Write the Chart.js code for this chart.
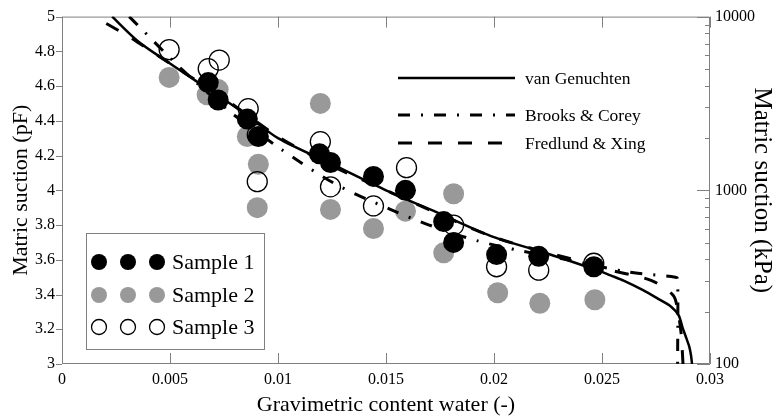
<!DOCTYPE html>
<html lang="en">
<head>
<meta charset="UTF-8">
<title>Matric suction vs gravimetric water content</title>
<script src="https://cdn.jsdelivr.net/npm/chart.js"></script>
<style>
  html, body { margin: 0; padding: 0; background: #fff; }
  #wrap { width: 777px; height: 416px; }
</style>
</head>
<body>
<div id="wrap"><canvas id="suctionChart"></canvas></div>
<script>
// measured points (gravimetric water content, pF)
const sample1X = [0.00677, 0.00723, 0.00858, 0.00909, 0.01192, 0.01243, 0.01442, 0.0159, 0.01767, 0.01813, 0.02012, 0.02207, 0.02462];
const sample1Y = [4.62, 4.52, 4.41, 4.31, 4.21, 4.16, 4.08, 4.00, 3.82, 3.70, 3.63, 3.62, 3.56];
const sample2X = [0.00496, 0.00672, 0.00723, 0.00858, 0.00909, 0.00904, 0.01196, 0.01243, 0.01442, 0.0159, 0.01813, 0.01767, 0.02017, 0.02212, 0.02467];
const sample2Y = [4.65, 4.55, 4.58, 4.31, 4.15, 3.90, 4.50, 3.89, 3.78, 3.88, 3.98, 3.64, 3.41, 3.35, 3.37];
const sample3X = [0.00496, 0.00677, 0.00728, 0.00862, 0.00904, 0.00904, 0.01196, 0.01243, 0.01442, 0.01595, 0.01813, 0.02012, 0.02207, 0.02462];
const sample3Y = [4.81, 4.70, 4.75, 4.47, 4.32, 4.05, 4.28, 4.02, 3.91, 4.13, 3.80, 3.56, 3.54, 3.58];

// fitted curves
const vgX = [0.00232, 0.0035, 0.005, 0.0062, 0.0073, 0.0087, 0.01, 0.0125, 0.015, 0.0175, 0.02, 0.0225, 0.025, 0.0254, 0.026, 0.0269, 0.0276, 0.0282, 0.02855, 0.02873, 0.0289, 0.02904, 0.02912, 0.02917];
const vgY = [5.0, 4.86, 4.73, 4.63, 4.54, 4.42, 4.30, 4.15, 4.00, 3.865, 3.73, 3.635, 3.53, 3.51, 3.48, 3.425, 3.375, 3.33, 3.28, 3.21, 3.15, 3.10, 3.05, 3.0];
const bcX = [0.00311, 0.00348, 0.0056, 0.0078, 0.009, 0.0101, 0.0126, 0.0152, 0.017, 0.0192, 0.0213, 0.0234, 0.0262, 0.0284, 0.0285, 0.0285];
const bcY = [5.0, 4.954, 4.69, 4.45, 4.34, 4.24, 4.04, 3.89, 3.80, 3.71, 3.65, 3.60, 3.53, 3.50, 3.49, 3.0];
const fxX = [0.00205, 0.0031, 0.0045, 0.006, 0.0075, 0.01, 0.0125, 0.015, 0.0175, 0.02, 0.0225, 0.025, 0.0254, 0.0273, 0.0283, 0.0285, 0.02866, 0.02875];
const fxY = [4.96, 4.885, 4.77, 4.65, 4.53, 4.31, 4.14, 4.00, 3.86, 3.73, 3.64, 3.56, 3.54, 3.48, 3.395, 3.31, 3.18, 3.0];

// axes
const xTicks = [0, 0.005, 0.01, 0.015, 0.02, 0.025, 0.03];
const xTickLabels = ['0', '0.005', '0.01', '0.015', '0.02', '0.025', '0.03'];
const pfTicks = [3, 3.2, 3.4, 3.6, 3.8, 4, 4.2, 4.4, 4.6, 4.8, 5];
const pfTickLabels = ['3', '3.2', '3.4', '3.6', '3.8', '4', '4.2', '4.4', '4.6', '4.8', '5'];
const kpaTicks = [100, 200, 300, 400, 500, 600, 700, 800, 900, 1000, 2000, 3000, 4000, 5000, 6000, 7000, 8000, 9000, 10000];
const kpaMajor = [100, 1000, 10000];
const kpaTickLabels = ['100', '1000', '10000'];

const axisGray = '#808080';
const serif = 'Liberation Serif';
Chart.defaults.font.family = serif;
Chart.defaults.color = '#000';

const pts = (xs, ys) => xs.map((x, i) => ({ x: x, y: ys[i] }));

// frame and inward/outward tick marks
const frameTicks = {
  id: 'frameTicks',
  beforeDatasetsDraw(chart) {
    const { ctx, chartArea: a, scales } = chart;
    ctx.save();
    ctx.strokeStyle = axisGray;
    ctx.lineWidth = 1;
    ctx.beginPath();
    ctx.rect(a.left + 0.5, a.top + 0.5, a.right - a.left - 1, a.bottom - a.top - 1);
    xTicks.forEach(v => {
      const px = Math.round(scales.x.getPixelForValue(v)) + 0.5;
      ctx.moveTo(px, a.bottom); ctx.lineTo(px, a.bottom - 11);
      ctx.moveTo(px, a.top); ctx.lineTo(px, a.top + 11);
    });
    pfTicks.forEach(v => {
      const py = Math.round(scales.y.getPixelForValue(v)) + 0.5;
      ctx.moveTo(a.left - 6, py); ctx.lineTo(a.left, py);
    });
    kpaTicks.forEach(v => {
      const py = Math.round(scales.y2.getPixelForValue(v)) + 0.5;
      const len = kpaMajor.includes(v) ? 13 : 5;
      ctx.moveTo(a.right - len, py); ctx.lineTo(a.right, py);
    });
    ctx.stroke();
    ctx.restore();
  }
};

// the two legends drawn inside the plot
const insideLegends = {
  id: 'insideLegends',
  afterDraw(chart) {
    const { ctx } = chart;
    const ds = chart.data.datasets;
    ctx.save();
    // samples box
    ctx.strokeStyle = axisGray;
    ctx.lineWidth = 1;
    ctx.strokeRect(86.5, 233.5, 178, 116);
    const rows = [262, 295, 327];
    const cols = [99, 128, 157];
    ds.slice(0, 3).forEach((d, i) => {
      cols.forEach(cx => {
        ctx.beginPath();
        ctx.arc(cx, rows[i], d.legendRadius, 0, Math.PI * 2);
        if (d.backgroundColor !== 'transparent') {
          ctx.fillStyle = d.backgroundColor;
          ctx.fill();
        }
        if (d.borderWidth > 0) {
          ctx.strokeStyle = d.borderColor;
          ctx.lineWidth = d.borderWidth;
          ctx.stroke();
        }
      });
      ctx.fillStyle = '#000';
      ctx.font = '22px "' + serif + '"';
      ctx.textBaseline = 'middle';
      ctx.fillText(d.label, 172, rows[i] + 1);
    });
    // curves
    const lineRows = [78, 115, 143];
    ds.slice(3).forEach((d, i) => {
      ctx.beginPath();
      ctx.setLineDash(d.borderDash || []);
      ctx.strokeStyle = d.borderColor;
      ctx.lineWidth = d.borderWidth;
      ctx.moveTo(398, lineRows[i]);
      ctx.lineTo(515, lineRows[i]);
      ctx.stroke();
      ctx.setLineDash([]);
      ctx.fillStyle = '#000';
      ctx.font = '17.5px "' + serif + '"';
      ctx.textBaseline = 'middle';
      ctx.fillText(d.label, 525, lineRows[i] + 1);
    });
    ctx.restore();
  }
};

const ctx = document.getElementById('suctionChart').getContext('2d');
const suctionChart = new Chart(ctx, {
  type: 'scatter',
  data: {
    datasets: [
      { label: 'Sample 1', data: pts(sample1X, sample1Y), order: 3,
        pointRadius: 10.5, backgroundColor: '#000', borderColor: '#000', borderWidth: 0, legendRadius: 8 },
      { label: 'Sample 2', data: pts(sample2X, sample2Y), order: 5,
        pointRadius: 10.5, backgroundColor: '#999999', borderColor: '#999999', borderWidth: 0, legendRadius: 8 },
      { label: 'Sample 3', data: pts(sample3X, sample3Y), order: 4,
        pointRadius: 10, backgroundColor: 'transparent', borderColor: '#000', borderWidth: 1.3, legendRadius: 7.5 },
      { label: 'van Genuchten', data: pts(vgX, vgY), order: 0, showLine: true, pointRadius: 0,
        borderColor: '#000', borderWidth: 2.5, tension: 0.3 },
      { label: 'Brooks & Corey', data: pts(bcX, bcY), order: 1, showLine: true, pointRadius: 0,
        borderColor: '#000', borderWidth: 3, borderDash: [12, 11, 2, 11], tension: 0.3 },
      { label: 'Fredlund & Xing', data: pts(fxX, fxY), order: 2, showLine: true, pointRadius: 0,
        borderColor: '#000', borderWidth: 3, borderDash: [14, 16], tension: 0.3 }
    ]
  },
  options: {
    responsive: true,
    maintainAspectRatio: false,
    animation: false,
    devicePixelRatio: 1,
    events: [],
    layout: { padding: { top: 15, left: 0, right: 0, bottom: 0 } },
    plugins: { legend: { display: false }, tooltip: { enabled: false } },
    scales: {
      x: {
        type: 'linear', position: 'bottom', min: 0, max: 0.03,
        afterBuildTicks: s => { s.ticks = xTicks.map(v => ({ value: v })); },
        afterFit: s => { s.height = 52; },
        grid: { display: false, drawTicks: false },
        border: { display: false },
        ticks: { autoSkip: false, maxRotation: 0, padding: 6, font: { size: 16 },
          callback: (v, i) => xTickLabels[i] },
        title: { display: true, text: 'Gravimetric content water (-)',
          font: { size: 22, lineHeight: 1 }, padding: { top: 0, bottom: 0 } }
      },
      y: {
        type: 'linear', position: 'left', min: 3, max: 5,
        afterBuildTicks: s => { s.ticks = pfTicks.map(v => ({ value: v })); },
        afterFit: s => { s.width = 62; },
        grid: { display: false, drawTicks: false },
        border: { display: false },
        ticks: { autoSkip: false, padding: 7, font: { size: 16 },
          callback: (v, i) => pfTickLabels[i] },
        title: { display: true, text: 'Matric suction (pF)',
          font: { size: 22, lineHeight: 1.2 }, padding: { top: 8, bottom: 0 } }
      },
      y2: {
        type: 'logarithmic', position: 'right', min: 100, max: 10000,
        afterBuildTicks: s => { s.ticks = kpaTicks.map(v => ({ value: v })); },
        afterFit: s => { s.width = 67; },
        grid: { display: false, drawTicks: false },
        border: { display: false },
        ticks: { autoSkip: false, padding: 5, font: { size: 16 },
          callback: v => { const k = kpaMajor.indexOf(v); return k >= 0 ? kpaTickLabels[k] : ''; } },
        title: { display: true, text: 'Matric suction (kPa)',
          font: { size: 25, lineHeight: 1.2 }, padding: { top: 0, bottom: 0 } }
      }
    }
  },
  plugins: [frameTicks, insideLegends]
});
</script>
</body>
</html>
